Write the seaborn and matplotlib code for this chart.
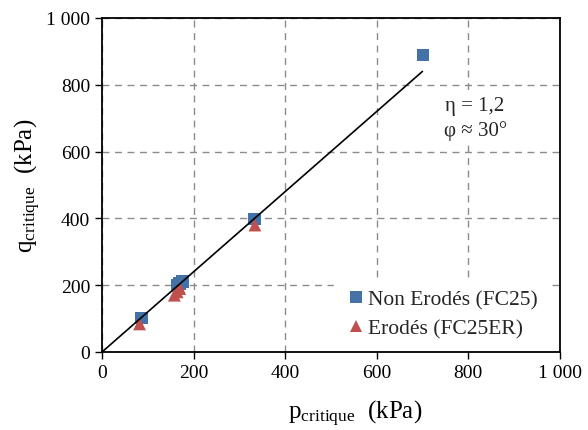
import matplotlib
matplotlib.use("Agg")
import matplotlib.pyplot as plt
import seaborn as sns
import pandas as pd
import numpy as np

# Data
p_non_erode = [87, 165, 170, 175, 333, 701]
q_non_erode = [102, 198, 205, 212, 398, 889]
p_erode = [82, 158, 164, 170, 334]
q_erode = [84, 170, 180, 190, 380]
line_p = [0, 700]
eta = 1.2
ticks = [0, 200, 400, 600, 800, 1000]
tick_labels = ["0", "200", "400", "600", "800", "1 000"]

sns.set_theme(style="white")
plt.rcParams['font.family'] = ['Liberation Serif', 'DejaVu Serif']
plt.rcParams['mathtext.fontset'] = 'custom'
plt.rcParams['mathtext.rm'] = 'Liberation Serif'
plt.rcParams['mathtext.it'] = 'Liberation Serif:italic'

df = pd.DataFrame({
    "p": p_non_erode + p_erode,
    "q": q_non_erode + q_erode,
    "serie": ["Non Erodés (FC25)"] * len(p_non_erode) + ["Erodés (FC25ER)"] * len(p_erode),
})

fig = plt.figure(figsize=(5.88, 4.31), dpi=100)
ax = fig.add_axes([0.1735, 0.181, 0.7785, 0.775])

sns.scatterplot(data=df, x="p", y="q", hue="serie", style="serie",
                markers={"Non Erodés (FC25)": "s", "Erodés (FC25ER)": "^"},
                palette={"Non Erodés (FC25)": "#4472A8", "Erodés (FC25ER)": "#C0504D"},
                s=85, edgecolor="none", linewidth=0, ax=ax, zorder=3)

lp = np.array(line_p)
sns.lineplot(x=lp, y=eta * lp, color="black", linewidth=1.2, ax=ax, zorder=4, legend=False)

ax.set_xlim(0, 1000)
ax.set_ylim(0, 1000)
ax.set_xticks(ticks)
ax.set_xticklabels(tick_labels)
ax.set_yticks(ticks)
ax.set_yticklabels(tick_labels)
ax.tick_params(axis="both", labelsize=14, direction="out", length=5, width=1,
               colors="black", bottom=True, left=True)
ax.grid(True, linestyle=(0, (5, 4)), color="#8c8c8c", linewidth=1)
ax.set_axisbelow(True)
for sp in ax.spines.values():
    sp.set_color("black")
    sp.set_linewidth(1.3)
    sp.set_zorder(10)

ax.set_xlabel(r"p$_{\mathrm{critique}}$  (kPa)", fontsize=18, color="black", labelpad=12)
ax.xaxis.label.set_x(0.552)
ax.set_ylabel(r"q$_{\mathrm{critique}}$  (kPa)", fontsize=18, color="black", labelpad=2)

ax.text(0.815, 0.70, "η = 1,2\nφ ≈ 30°", transform=ax.transAxes, fontsize=15,
        ha="center", va="center", linespacing=1.35, zorder=2,
        bbox=dict(boxstyle="square,pad=0.2", facecolor="white", edgecolor="none"))

leg = ax.legend(loc="lower right", bbox_to_anchor=(1.0, -0.025), frameon=True,
                fontsize=15.5, handletextpad=0.1, borderpad=0.5, labelspacing=0.45,
                markerscale=0.9, handlelength=1.0)
leg.get_frame().set_facecolor("white")
leg.get_frame().set_edgecolor("white")
leg.get_frame().set_alpha(1)
leg.get_frame().set_boxstyle("square", pad=0)
leg.set_zorder(5)

fig.savefig("out.png", dpi=100)
